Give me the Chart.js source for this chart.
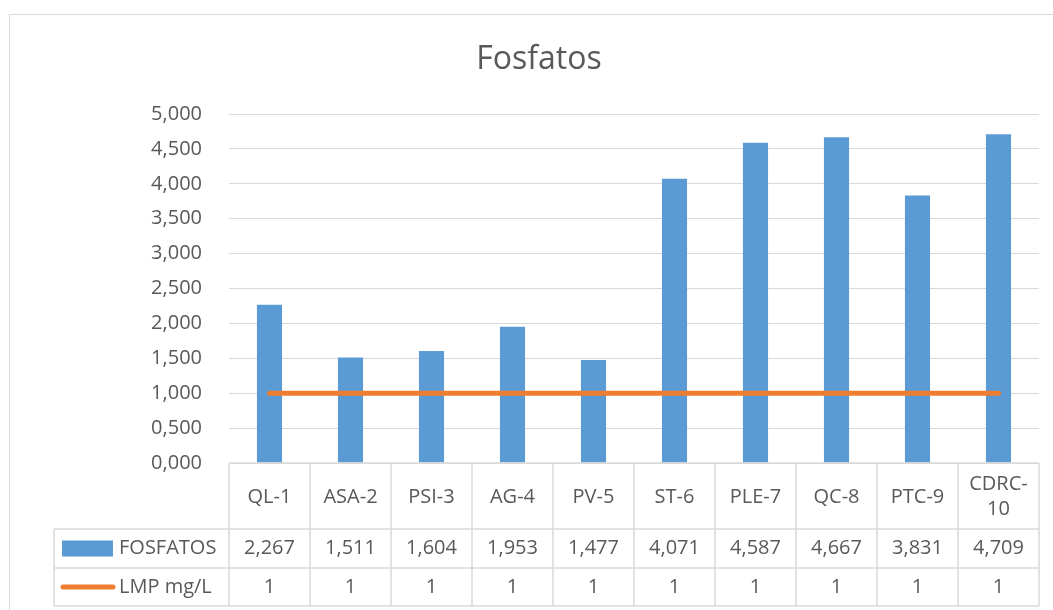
<!DOCTYPE html>
<html>
<head>
<meta charset="utf-8">
<script src="https://cdn.jsdelivr.net/npm/chart.js@4/dist/chart.umd.min.js"></script>
<style>
html, body { margin: 0; padding: 0; background: #fff; }
</style>
</head>
<body>
<canvas id="myChart" width="1053" height="610"></canvas>
<script>
const chartTitle = 'Fosfatos';
const categories = ['QL-1', 'ASA-2', 'PSI-3', 'AG-4', 'PV-5', 'ST-6', 'PLE-7', 'QC-8', 'PTC-9', 'CDRC-10'];
const fosfatos = [2.267, 1.511, 1.604, 1.953, 1.477, 4.071, 4.587, 4.667, 3.831, 4.709];
const lmp = [1, 1, 1, 1, 1, 1, 1, 1, 1, 1];
const seriesNames = ['FOSFATOS', 'LMP mg/L'];
const yMin = 0, yMax = 5, yStep = 0.5;

const FONT = '"Open Sans", sans-serif';
const TEXT = '#595959';
const GRID = '#d9d9d9';
const BLUE = '#5B9BD5';
const ORANGE = '#ED7D31';

// formato con coma decimal, como en la hoja de Excel
const dec3 = v => v.toFixed(3).replace('.', ',');

// etiquetas largas se parten despues del guion
function wrapLabel(ctx, text, maxW) {
    if (ctx.measureText(text).width <= maxW || text.indexOf('-') < 0) return [text];
    const i = text.indexOf('-');
    return [text.slice(0, i + 1), text.slice(i + 1)];
}

const tablePlugin = {
    id: 'dataTable',
    beforeDraw(chart) {
        const ctx = chart.ctx;
        ctx.save();
        ctx.strokeStyle = GRID;
        ctx.lineWidth = 1;
        ctx.beginPath();
        ctx.moveTo(9.5, 610);
        ctx.lineTo(9.5, 14.5);
        ctx.lineTo(1053, 14.5);
        ctx.stroke();
        ctx.fillStyle = TEXT;
        ctx.font = '32px ' + FONT;
        ctx.textAlign = 'center';
        ctx.textBaseline = 'alphabetic';
        ctx.fillText(chartTitle, 539, 69);
        ctx.restore();
    },
    afterDraw(chart) {
        const { ctx, chartArea, scales } = chart;
        const x = scales.x;
        const colW = x.getPixelForValue(1) - x.getPixelForValue(0);
        const left = chartArea.left, right = chartArea.right;
        const top = chartArea.bottom;
        const r1 = top + 66, r2 = r1 + 39, r3 = r2 + 38;
        const labelLeft = 54;

        ctx.save();
        ctx.strokeStyle = GRID;
        ctx.lineWidth = 1.5;
        ctx.beginPath();
        ctx.moveTo(left, top); ctx.lineTo(right, top);
        [r1, r2, r3].forEach(y => { ctx.moveTo(labelLeft, y); ctx.lineTo(right, y); });
        ctx.moveTo(labelLeft, r1); ctx.lineTo(labelLeft, r3);
        for (let i = 0; i <= categories.length; i++) {
            const xx = left + i * colW;
            ctx.moveTo(xx, top); ctx.lineTo(xx, r3);
        }
        ctx.stroke();

        ctx.fillStyle = TEXT;
        ctx.font = '20px ' + FONT;
        ctx.textAlign = 'center';
        ctx.textBaseline = 'middle';
        const headMid = (top + r1) / 2 + 1;
        categories.forEach((c, i) => {
            const cx = x.getPixelForValue(i);
            const lines = wrapLabel(ctx, c, colW - 8);
            const lh = 25;
            lines.forEach((ln, k) => {
                ctx.fillText(ln, cx, headMid + (k - (lines.length - 1) / 2) * lh);
            });
            ctx.fillText(dec3(fosfatos[i]), cx, (r1 + r2) / 2);
            ctx.fillText(String(lmp[i]), cx, (r2 + r3) / 2);
        });

        // claves de la leyenda dentro de la tabla
        ctx.textAlign = 'left';
        ctx.fillStyle = BLUE;
        const m1 = (r1 + r2) / 2, m2 = (r2 + r3) / 2;
        ctx.fillRect(62, m1 - 8, 51, 16);
        ctx.strokeStyle = ORANGE;
        ctx.lineWidth = 5;
        ctx.lineCap = 'round';
        ctx.beginPath();
        ctx.moveTo(63, m2); ctx.lineTo(113, m2);
        ctx.stroke();
        ctx.fillStyle = TEXT;
        ctx.fillText(seriesNames[0], 119, m1);
        ctx.fillText(seriesNames[1], 119, m2);
        ctx.restore();
    }
};

const ctx = document.getElementById('myChart').getContext('2d');
const myChart = new Chart(ctx, {
    data: {
        labels: categories,
        datasets: [{
            type: 'bar',
            label: seriesNames[0],
            data: fosfatos,
            backgroundColor: BLUE,
            barPercentage: 0.31,
            categoryPercentage: 1,
            order: 2
        }, {
            type: 'line',
            label: seriesNames[1],
            data: lmp,
            borderColor: ORANGE,
            borderWidth: 5,
            borderCapStyle: 'round',
            pointRadius: 0,
            fill: false,
            order: 1
        }]
    },
    options: {
        responsive: false,
        animation: false,
        devicePixelRatio: 1,
        layout: { padding: { top: 114, right: 14, bottom: 147, left: 0 } },
        plugins: {
            legend: { display: false },
            title: { display: false },
            tooltip: { enabled: false }
        },
        scales: {
            x: { display: false },
            y: {
                min: yMin,
                max: yMax,
                afterFit: s => { s.width = 229; },
                border: { display: false },
                grid: { color: GRID, lineWidth: 1, drawTicks: false },
                ticks: {
                    stepSize: yStep,
                    padding: 27,
                    color: TEXT,
                    font: { family: FONT, size: 20 },
                    callback: v => dec3(v)
                }
            }
        }
    },
    plugins: [tablePlugin]
});
</script>
</body>
</html>
